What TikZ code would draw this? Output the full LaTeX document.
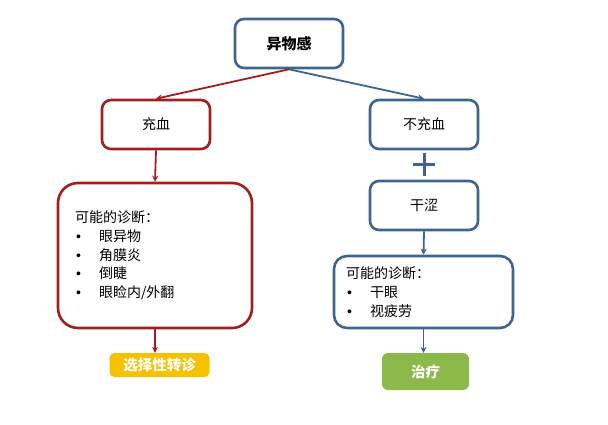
\documentclass[tikz,border=0pt]{standalone}
\usepackage{fontspec}
\setmainfont{Noto Sans CJK SC}
\newfontfamily\bulletfont{Liberation Sans}
\usetikzlibrary{arrows.meta}
\definecolor{boxblue}{HTML}{3E6490}
\definecolor{boxred}{HTML}{A31F1F}
\definecolor{referyellow}{HTML}{F6C100}
\definecolor{treatgreen}{HTML}{8DB94B}
\newcommand{\bulletitem}[1]{\makebox[24pt][l]{\hspace{1pt}{\bulletfont\textbullet}}#1}

\begin{document}
\begin{tikzpicture}[x=1pt,y=-1pt,
  box/.style={draw,line width=2.6pt,rounded corners=9pt,fill=white,
    minimum width=108pt,minimum height=49pt,inner sep=0pt,
    font=\fontsize{14}{17}\selectfont},
  diagbox/.style={box,align=left,font=\fontsize{14}{18.7}\selectfont},
  tagbox/.style={rounded corners=5pt,text=white,inner sep=0pt,
    font=\fontsize{14.5}{17}\selectfont\bfseries},
  link/.style={line width=1.8pt,-{Stealth[length=6pt,width=6pt]}}]
  \useasboundingbox (0,0) rectangle (608,425);
  % top
  \node[box,draw=boxblue,font=\fontsize{15}{17}\selectfont\bfseries] (feel) at (289,43.5) {异物感};
  % left branch
  \node[box,draw=boxred] (hyp) at (156,124.5) {充血};
  \node[diagbox,draw=boxred,rounded corners=20pt,minimum height=145pt,
    text width=160pt,inner xsep=17pt] (ldiag) at (155,255.5)
    {可能的诊断：\\ \bulletitem{眼异物}\\ \bulletitem{角膜炎}\\ \bulletitem{倒睫}\\ \bulletitem{眼睑内/外翻}};
  \node[tagbox,fill=referyellow,minimum width=100pt,minimum height=24pt] (refer) at (159.5,365) {选择性转诊};
  % right branch
  \node[box,draw=boxblue] (nohyp) at (424,124.5) {不充血};
  \node[box,draw=boxblue] (dry) at (424,205.5) {干涩};
  \node[diagbox,draw=boxblue,rounded corners=13pt,minimum height=72pt,
    text width=155pt,inner xsep=12pt] (rdiag) at (423.5,292)
    {可能的诊断：\\ \bulletitem{干眼}\\ \bulletitem{视疲劳}};
  \node[tagbox,fill=treatgreen,rounded corners=6pt,minimum width=87pt,minimum height=37pt] (treat) at (425.5,371.5) {治疗};
  % plus between 不充血 and 干涩
  \coordinate (plus) at (424,165);
  \draw[boxblue,line width=3pt] (plus) +(-11,0) -- +(11,0) (plus) +(0,-11.5) -- +(0,11.5);
  % connectors
  \draw[link,boxred] (feel.south) -- (hyp.north);
  \draw[link,boxblue] (feel.south) -- (nohyp.north);
  \draw[link,boxred] (hyp.south) -- (ldiag.north);
  \draw[link,boxred] (ldiag.south) -- (ldiag.south |- refer.north);
  \draw[link,boxblue] (dry.south) -- (rdiag.north);
  \draw[link,boxblue] (rdiag.south) -- (rdiag.south |- treat.north);
\end{tikzpicture}
\end{document}
